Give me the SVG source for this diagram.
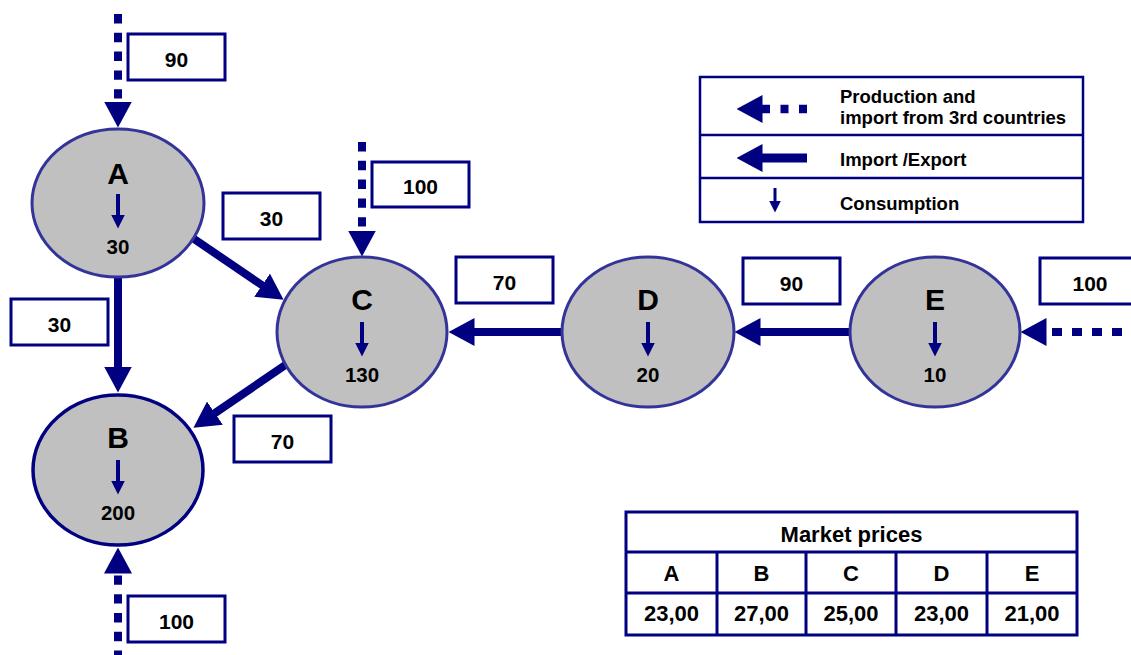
<svg xmlns="http://www.w3.org/2000/svg" width="1131" height="655" viewBox="0 0 1131 655">
  <defs>
    <!-- large arrowhead for flow lines, starts where the line ends -->
    <marker id="head" viewBox="0 0 26 28" markerWidth="26" markerHeight="28" refX="0.5" refY="14" markerUnits="userSpaceOnUse" orient="auto">
      <path d="M0,0 L26,14 L0,28 Z" fill="#000080"/>
    </marker>
    <!-- small arrowhead for consumption arrows -->
    <marker id="tip" viewBox="0 0 14 14" markerWidth="14" markerHeight="14" refX="0.5" refY="7" markerUnits="userSpaceOnUse" orient="auto">
      <path d="M0,0 L14,7 L0,14 Z" fill="#000080"/>
    </marker>
    <marker id="tipSmall" viewBox="0 0 12 12" markerWidth="12" markerHeight="12" refX="0.5" refY="6" markerUnits="userSpaceOnUse" orient="auto">
      <path d="M0,0 L12,6 L0,12 Z" fill="#000080"/>
    </marker>
  </defs>
  <style>
    text { font-family: "Liberation Sans", Arial, sans-serif; font-weight: bold; fill: #000; }
    .flow { stroke: #000080; stroke-width: 8; fill: none; marker-end: url(#head); }
    .supply { stroke: #000080; stroke-width: 8; fill: none; stroke-dasharray: 9.4 9.4; marker-end: url(#head); }
    .cons { stroke: #000080; stroke-width: 4; fill: none; marker-end: url(#tip); }
    .node { fill: #c0c0c0; stroke: #333399; stroke-width: 3; }
    .nodeB { fill: #c0c0c0; stroke: #000080; stroke-width: 3.5; }
    .box { fill: #fff; stroke: #000080; stroke-width: 3; }
    .letter { font-size: 30px; text-anchor: middle; }
    .num { font-size: 20.5px; text-anchor: middle; }
    .lbl { font-size: 21px; text-anchor: middle; }
    .cell { font-size: 22px; text-anchor: middle; }
    .leg { font-size: 18.5px; }
    .frame { fill: #fff; stroke: #000080; stroke-width: 2.5; }
    .grid { fill: none; stroke: #000080; stroke-width: 3; }
  </style>

  <!-- connectors -->
  <g id="connectors">
    <!-- external supply (production / third-country imports) -->
    <path class="supply" d="M118,14 L118,102"/>
    <path class="supply" d="M362,142 L362,231"/>
    <path class="supply" d="M118,655 L118,573" style="stroke-dashoffset:5"/>
    <path class="supply" d="M1131,332 L1046,332" style="stroke-dasharray:10 10;stroke-dashoffset:11"/>
    <!-- trade flows between markets -->
    <path class="flow" d="M118,250 L118,367"/>
    <path class="flow" d="M175,226 L262.5,285.5"/>
    <path class="flow" d="M300,355 L214.5,413.4"/>
    <path class="flow" d="M600,332 L474,332"/>
    <path class="flow" d="M880,332 L760,332"/>
  </g>

  <!-- flow quantity labels -->
  <g id="labels">
    <g id="lbl-supply-a"><rect class="box" x="128" y="34" width="97" height="46"/><text class="lbl" x="176.5" y="67">90</text></g>
    <g id="lbl-a-c"><rect class="box" x="223" y="193" width="97" height="46"/><text class="lbl" x="271.5" y="226">30</text></g>
    <g id="lbl-a-b"><rect class="box" x="11" y="299" width="97" height="46"/><text class="lbl" x="59.5" y="332">30</text></g>
    <g id="lbl-c-b"><rect class="box" x="234" y="416" width="97" height="46"/><text class="lbl" x="282.5" y="449">70</text></g>
    <g id="lbl-supply-b"><rect class="box" x="128" y="596" width="97" height="46"/><text class="lbl" x="176.5" y="629">100</text></g>
    <g id="lbl-supply-c"><rect class="box" x="372" y="162" width="97" height="45"/><text class="lbl" x="420.5" y="194">100</text></g>
    <g id="lbl-d-c"><rect class="box" x="456" y="257" width="97" height="46"/><text class="lbl" x="504.5" y="290">70</text></g>
    <g id="lbl-e-d"><rect class="box" x="743" y="258" width="97" height="46"/><text class="lbl" x="791.5" y="291">90</text></g>
    <g id="lbl-supply-e"><rect class="box" x="1040" y="258" width="100" height="46"/><text class="lbl" x="1090" y="291">100</text></g>
  </g>

  <!-- market nodes -->
  <g id="node-A">
    <ellipse class="node" cx="118" cy="203" rx="86" ry="74"/>
    <text class="letter" x="118" y="184">A</text>
    <path class="cons" d="M118,194 L118,215"/>
    <text class="num" x="118" y="254">30</text>
  </g>
  <g id="node-B">
    <ellipse class="nodeB" cx="118" cy="470" rx="85" ry="75"/>
    <text class="letter" x="118" y="448">B</text>
    <path class="cons" d="M118,460 L118,481"/>
    <text class="num" x="118" y="520">200</text>
  </g>
  <g id="node-C">
    <ellipse class="node" cx="362" cy="332" rx="85" ry="75"/>
    <text class="letter" x="362" y="310">C</text>
    <path class="cons" d="M362,322 L362,343"/>
    <text class="num" x="362" y="382">130</text>
  </g>
  <g id="node-D">
    <ellipse class="node" cx="648" cy="332" rx="86" ry="75"/>
    <text class="letter" x="648" y="310">D</text>
    <path class="cons" d="M648,322 L648,343"/>
    <text class="num" x="648" y="382">20</text>
  </g>
  <g id="node-E">
    <ellipse class="node" cx="935" cy="332" rx="85" ry="75"/>
    <text class="letter" x="935" y="310">E</text>
    <path class="cons" d="M935,322 L935,343"/>
    <text class="num" x="935" y="382">10</text>
  </g>

  <!-- legend -->
  <g id="legend">
    <rect class="frame" x="700" y="77" width="383" height="145"/>
    <line class="grid" x1="700" y1="135" x2="1083" y2="135" style="stroke-width:2.5"/>
    <line class="grid" x1="700" y1="178" x2="1083" y2="178" style="stroke-width:2.5"/>
    <path d="M807,109 L762,109" stroke="#000080" stroke-width="8.5" fill="none" stroke-dasharray="8 10.5" marker-end="url(#head)"/>
    <text class="leg" x="840" y="103">Production and</text>
    <text class="leg" x="840" y="124">import from 3rd countries</text>
    <path d="M807,158 L762,158" stroke="#000080" stroke-width="9" fill="none" marker-end="url(#head)"/>
    <text class="leg" x="840" y="166">Import /Export</text>
    <path d="M775,188 L775,201" stroke="#000080" stroke-width="3" fill="none" marker-end="url(#tipSmall)"/>
    <text class="leg" x="840" y="210">Consumption</text>
  </g>

  <!-- market price table -->
  <g id="price-table">
    <rect x="626" y="512" width="451" height="123" fill="#fff" stroke="#000080" stroke-width="3"/>
    <line class="grid" x1="626" y1="552" x2="1077" y2="552"/>
    <line class="grid" x1="626" y1="593" x2="1077" y2="593"/>
    <line class="grid" x1="717" y1="552" x2="717" y2="635"/>
    <line class="grid" x1="806" y1="552" x2="806" y2="635"/>
    <line class="grid" x1="896" y1="552" x2="896" y2="635"/>
    <line class="grid" x1="987" y1="552" x2="987" y2="635"/>
    <text class="cell" x="851.5" y="542">Market prices</text>
    <text class="cell" x="671.5" y="581">A</text>
    <text class="cell" x="761.5" y="581">B</text>
    <text class="cell" x="851" y="581">C</text>
    <text class="cell" x="941.5" y="581">D</text>
    <text class="cell" x="1032" y="581">E</text>
    <text class="cell" x="671.5" y="621">23,00</text>
    <text class="cell" x="761.5" y="621">27,00</text>
    <text class="cell" x="851" y="621">25,00</text>
    <text class="cell" x="941.5" y="621">23,00</text>
    <text class="cell" x="1032" y="621">21,00</text>
  </g>
</svg>
